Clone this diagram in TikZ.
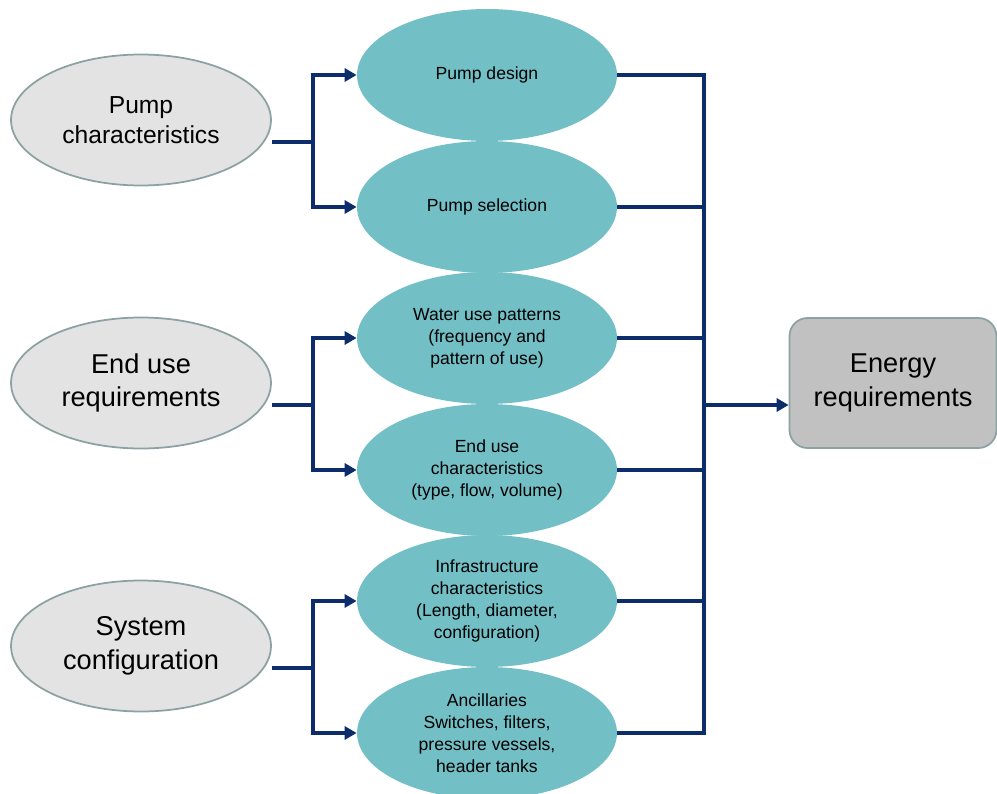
\documentclass[tikz,border=0pt]{standalone}
\usepackage{fontspec}
\setmainfont{Liberation Sans}
\usetikzlibrary{shapes.geometric,arrows.meta}
\definecolor{navy}{HTML}{0D2C6C}
\definecolor{tealfill}{HTML}{73BFC6}
\definecolor{greyfill}{HTML}{E3E3E3}
\definecolor{boxfill}{HTML}{C1C1C1}
\definecolor{rimgrey}{HTML}{8CA2A2}

\begin{document}
\begin{tikzpicture}[x=0.02cm,y=-0.02cm,
    cause/.style={ellipse,draw=rimgrey,line width=1pt,fill=greyfill,minimum width=5.2cm,minimum height=2.62cm,inner sep=0pt,align=center,font=\fontsize{15.5}{19}\selectfont},
    factor/.style={ellipse,fill=tealfill,minimum width=5.2cm,minimum height=2.64cm,inner sep=0pt,align=center,font=\fontsize{10}{12.5}\selectfont},
    link/.style={navy,line width=2.1pt},
    arr/.style={link,-{Triangle[length=0.24cm,width=0.26cm]}}]
    \useasboundingbox (0,0) rectangle (997,794);
    % causes on the left
    \node[cause,font=\fontsize{14}{17}\selectfont] (pc) at (141,120) {Pump\\characteristics};
    \node[cause] (er) at (141,383) {End use\\requirements};
    \node[cause] (sc) at (141,646) {System\\configuration};
    % factors in the middle
    \node[factor] (pd) at (487,75) {Pump design};
    \node[factor] (ps) at (487,207) {Pump selection};
    \node[factor] (wup) at (487,338) {Water use patterns\\(frequency and\\pattern of use)};
    \node[factor] (euc) at (487,470) {End use\\characteristics\\(type, flow, volume)};
    \node[factor] (inf) at (487,601) {Infrastructure\\characteristics\\(Length, diameter,\\configuration)};
    \node[factor] (anc) at (487,733) {Ancillaries\\Switches, filters,\\pressure vessels,\\header tanks};
    % result
    \node[draw=rimgrey,line width=1pt,fill=boxfill,rounded corners=0.36cm,minimum width=4.14cm,minimum height=2.6cm,align=center,font=\fontsize{15.5}{19}\selectfont] (en) at (893,383) {Energy\\requirements};
    \coordinate (fork) at (313,0);
    \coordinate (hub) at (704,405);
    \foreach \src/\up/\dn in {pc/pd/ps,er/wup/euc,sc/inf/anc} {
        \draw[link] (\src.-10 -| \src.east) -- (\src.-10 -| fork);
        \draw[arr] (\src.-10 -| fork) |- (\up.west);
        \draw[arr] (\src.-10 -| fork) |- (\dn.west);
    }
    \draw[link] (pd.east) -| (hub |- anc.east) -- (anc.east);
    \foreach \n in {ps,wup,euc,inf}
        \draw[link] (\n.east) -- (\n.east -| hub);
    \draw[arr] (hub) -- (hub -| en.west);
\end{tikzpicture}
\end{document}
